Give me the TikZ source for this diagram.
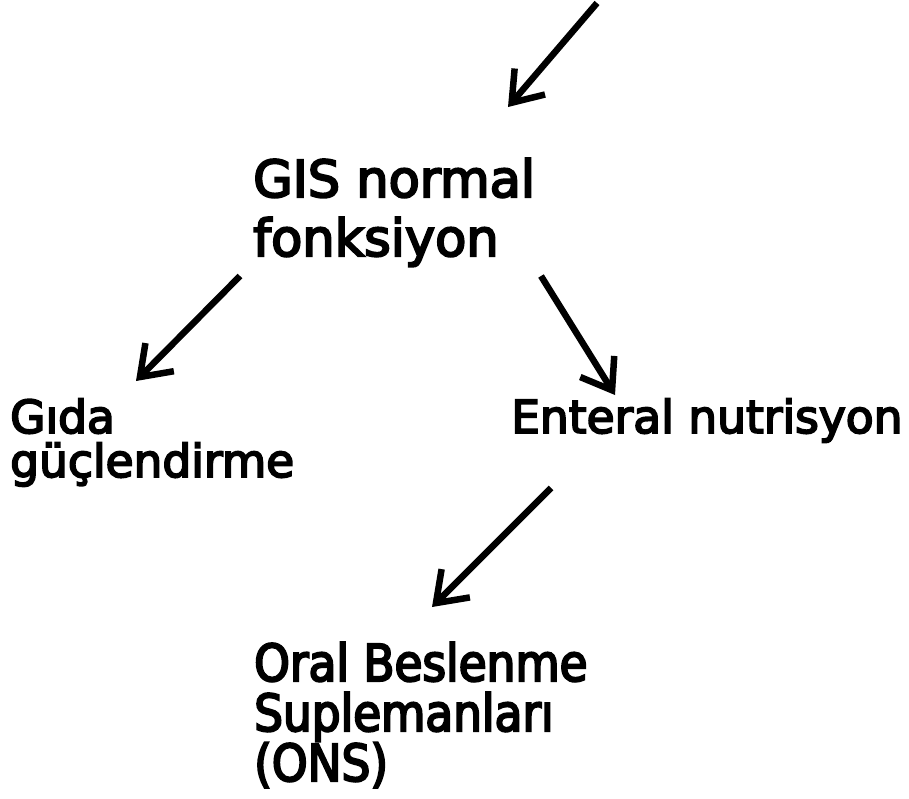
\documentclass[tikz,border=0pt]{standalone}
\usepackage{fontspec}
\setmainfont{DejaVu Sans}[FakeBold=4]
\newfontfamily\narrowfont{DejaVu Sans}[FakeBold=4,FakeStretch=0.89]
\usetikzlibrary{arrows.meta}

\begin{document}
\begin{tikzpicture}[x=1pt,y=-1pt,
  big/.style={anchor=base west, inner sep=0pt, align=left, font=\fontsize{51}{59}\selectfont},
  small/.style={anchor=base west, inner sep=0pt, align=left, font=\fontsize{45.5}{44}\selectfont},
  arr/.style={line width=6.5pt, -{Straight Barb[length=28pt,width=40pt]}}]
\useasboundingbox (0,0) rectangle (909,798);

% Labels (anchored at the baseline of the last line)
\node[big] (gis) at (253,256) {GIS normal\\fonksiyon};
\node[small] (gida) at (10,477) {Gıda\\güçlendirme};
\node[small] (enteral) at (511,433) {Enteral nutrisyon};
\node[big, font=\narrowfont\fontsize{51}{50}\selectfont] (ons) at (254,781) {Oral Beslenme\\Suplemanları\\(ONS)};

% Arrow ends
\coordinate (top) at (597,3);
\coordinate (gis-in) at (508,107);
\coordinate (gis-l) at (240,276);
\coordinate (gida-in) at (136,381);
\coordinate (gis-r) at (541,276);
\coordinate (enteral-in) at (615,395);
\coordinate (enteral-out) at (551,488);
\coordinate (ons-in) at (432,607);

% Arrows
\draw[arr] (top) -- (gis-in);
\draw[arr] (gis-l) -- (gida-in);
\draw[arr] (gis-r) -- (enteral-in);
\draw[arr] (enteral-out) -- (ons-in);
\end{tikzpicture}
\end{document}
